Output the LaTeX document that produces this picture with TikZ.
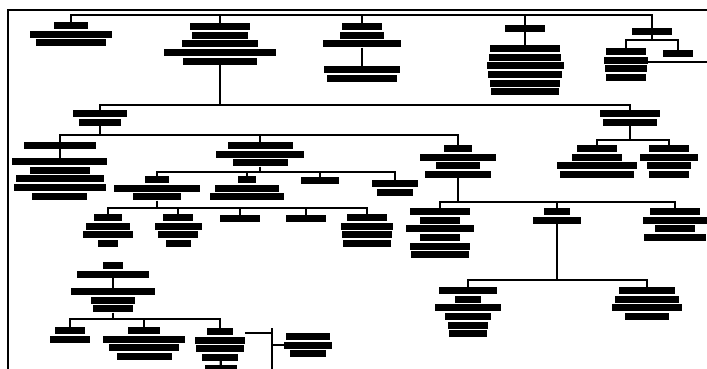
\documentclass[tikz,border=0pt]{standalone}
\usepackage{tikz}
\usetikzlibrary{positioning}

% one smudged line of a name block
\newcommand{\rw}[1]{\rule{#1pt}{7pt}}

\tikzset{
  blk/.style={anchor=north, inner sep=0pt, align=center, font=\fontsize{6}{8.6}\selectfont},
  link/.style={line width=2.2pt},
  frame/.style={line width=2pt}
}

\begin{document}
\begin{tikzpicture}[x=1pt, y=-1pt]
  \useasboundingbox (0,0) rectangle (707,369);
  % Frame (only top and left edges are visible)
  \draw[frame] (707,10) -- (8,10) -- (8,369);

  % First generation
  \node[blk] (t1)  at (71,22)  {\rw{34}\\\rw{82}\\\rw{70}};
  \node[blk] (t2)  at (220,23) {\rw{60}\\\rw{56}\\\rw{76}\\\rw{112}\\\rw{74}};
  \node[blk] (t3)  at (362,23) {\rw{40}\\\rw{44}\\\rw{78}};
  \node[blk] (t3b) at (362,66) {\rw{76}\\\rw{70}};
  \node[blk] (t4a) at (525,25) {\rw{40}};
  \node[blk] (t4b) at (525,45) {\rw{70}\\\rw{72}\\\rw{77}\\\rw{74}\\\rw{70}\\\rw{68}};
  \node[blk] (t5)  at (652,28) {\rw{40}};
  \node[blk] (t5a) at (626,48) {\rw{40}\\\rw{44}\\\rw{42}\\\rw{40}};
  \node[blk] (t5b) at (678,50) {\rw{30}};

  \coordinate (root) at (360,15);
  \draw[link] (t1.north) |- (root) -| (t5.north);
  \foreach \k in {t2,t3,t4a}
    \draw[link] (\k.north) -- (\k.north |- root);
  \draw[link] (t3) -- (t3b);
  \draw[link] (t4a) -- (t4b);
  \coordinate (l9) at (652,40);
  \coordinate (edgeR) at (707,62);
  \draw[link] (t5.south) -- (l9);
  \draw[link] (t5a.north) |- (l9) -| (t5b.north);
  \draw[link] (t5a.east |- edgeR) -- (edgeR);

  % Second generation
  \node[blk] (A) at (100,110) {\rw{54}\\\rw{42}};
  \node[blk] (G) at (630,110) {\rw{60}\\\rw{54}};
  \coordinate (l2) at (220,105);
  \draw[link] (t2.south) -- (l2);
  \draw[link] (A.north) |- (l2) -| (G.north);

  % Children of A
  \node[blk] (B1a) at (60,142)  {\rw{72}};
  \node[blk] (B1b) at (60,158)  {\rw{95}\\\rw{60}\\\rw{88}\\\rw{92}\\\rw{55}};
  \node[blk] (B2)  at (260,142) {\rw{65}\\\rw{88}\\\rw{55}};
  \node[blk] (B3)  at (458,145) {\rw{28}\\\rw{76}\\\rw{44}\\\rw{66}};
  \coordinate (l3) at (100,135);
  \draw[link] (A.south) -- (l3);
  \draw[link] (B1a.north) |- (l3) -| (B3.north);
  \draw[link] (B2.north) -- (B2.north |- l3);
  \draw[link] (B1a) -- (B1b);

  % Children of G
  \node[blk] (H1) at (597,145) {\rw{40}\\\rw{50}\\\rw{80}\\\rw{74}};
  \node[blk] (H2) at (669,145) {\rw{40}\\\rw{58}\\\rw{44}\\\rw{40}};
  \coordinate (l8) at (630,140);
  \draw[link] (G.south) -- (l8);
  \draw[link] (H1.north) |- (l8) -| (H2.north);

  % Children of B2
  \node[blk] (C1) at (157,176) {\rw{24}\\\rw{86}\\\rw{48}};
  \node[blk] (C2) at (247,176) {\rw{18}\\\rw{64}\\\rw{74}};
  \node[blk] (C3) at (320,177) {\rw{38}};
  \node[blk] (C4) at (395,180) {\rw{46}\\\rw{36}};
  \coordinate (l4) at (260,172);
  \draw[link] (B2.south) -- (l4);
  \draw[link] (C1.north) |- (l4) -| (C4.north);
  \foreach \k in {C2,C3}
    \draw[link] (\k.north) -- (\k.north |- l4);

  % Children of C1
  \node[blk] (D1) at (108,214) {\rw{28}\\\rw{44}\\\rw{50}\\\rw{20}};
  \node[blk] (D2) at (178,214) {\rw{30}\\\rw{47}\\\rw{40}\\\rw{25}};
  \node[blk] (D3) at (240,215) {\rw{40}};
  \node[blk] (D4) at (306,215) {\rw{40}};
  \node[blk] (D5) at (367,214) {\rw{40}\\\rw{52}\\\rw{50}\\\rw{48}};
  \coordinate (l5) at (157,208);
  \draw[link] (C1.south) -- (l5);
  \draw[link] (D1.north) |- (l5) -| (D5.north);
  \foreach \k in {D2,D3,D4}
    \draw[link] (\k.north) -- (\k.north |- l5);

  % Children of B3
  \node[blk] (E1) at (440,208) {\rw{60}\\\rw{40}\\\rw{68}\\\rw{40}\\\rw{60}\\\rw{58}};
  \node[blk] (E2) at (557,208) {\rw{26}\\\rw{48}};
  \node[blk] (E3) at (675,208) {\rw{50}\\\rw{64}\\\rw{40}\\\rw{62}};
  \coordinate (l6) at (458,202);
  \draw[link] (B3.south) -- (l6);
  \draw[link] (E1.north) |- (l6) -| (E3.north);
  \draw[link] (E2.north) -- (E2.north |- l6);

  % Children of E2
  \node[blk] (F1) at (468,287) {\rw{58}\\\rw{26}\\\rw{66}\\\rw{46}\\\rw{40}\\\rw{38}};
  \node[blk] (F2) at (647,287) {\rw{56}\\\rw{64}\\\rw{70}\\\rw{44}};
  \coordinate (l7) at (557,280);
  \draw[link] (E2.south) -- (l7);
  \draw[link] (F1.north) |- (l7) -| (F2.north);

  % Lower left branch
  \node[blk] (K1) at (113,262) {\rw{20}\\\rw{72}};
  \node[blk] (K2) at (113,288) {\rw{84}\\\rw{44}\\\rw{40}};
  \draw[link] (K1) -- (K2);
  \node[blk] (L1) at (70,327)  {\rw{30}\\\rw{40}};
  \node[blk] (L2) at (144,327) {\rw{32}\\\rw{82}\\\rw{70}\\\rw{55}};
  \node[blk] (L3) at (220,328) {\rw{26}\\\rw{50}\\\rw{48}\\\rw{36}};
  \node[blk] (L4) at (221,365) {\rw{32}};
  \node[blk] (M)  at (308,333) {\rw{44}\\\rw{48}\\\rw{36}};
  \coordinate (l10) at (113,319);
  \draw[link] (K2.south) -- (l10);
  \draw[link] (L1.north) |- (l10) -| (L3.north);
  \draw[link] (L2.north) -- (L2.north |- l10);
  \draw[link] (L3) -- (L4);
  \coordinate (jn) at (272,333);
  \coordinate (jt) at (272,328);
  \coordinate (jb) at (272,369);
  \draw[link] (L3.east |- jn) -- (jn);
  \draw[link] (jt) -- (jb);
  \draw[link] (jn |- M.west) -- (M.west);
\end{tikzpicture}
\end{document}
